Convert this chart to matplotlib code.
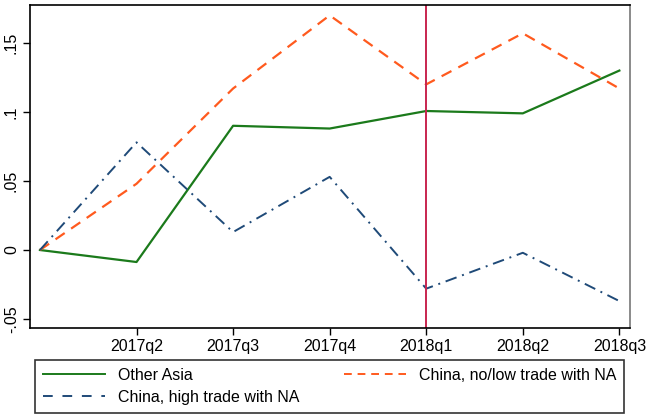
import matplotlib
matplotlib.use("Agg")
import matplotlib.pyplot as plt
from matplotlib.lines import Line2D

plt.rcParams['font.family'] = ['Liberation Sans', 'DejaVu Sans']

quarters = ['2017q1', '2017q2', '2017q3', '2017q4', '2018q1', '2018q2', '2018q3']
tick_labels = ['', '2017q2', '2017q3', '2017q4', '2018q1', '2018q2', '2018q3']
other_asia = [0.0, -0.0087, 0.090, 0.088, 0.1007, 0.099, 0.130]
china_low = [0.0, 0.048, 0.117, 0.170, 0.120, 0.157, 0.117]
china_high = [0.0, 0.078, 0.013, 0.053, -0.028, -0.002, -0.037]
y_ticks = [-0.05, 0.0, 0.05, 0.10, 0.15]
y_tick_labels = ['-.05', '0', '.05', '.1', '.15']
event_quarter = '2018q1'

x = list(range(1, len(quarters) + 1))

fig = plt.figure(figsize=(6.5, 4.18), dpi=100)
ax = fig.add_axes([30/650, 1 - 328/418, 600/650, 323/418])

c_green = '#1b7a1b'
c_orange = '#ff5a1e'
c_blue = '#1f4a78'
c_red = '#c8254f'

l1, = ax.plot(x, other_asia, color=c_green, lw=1.6, label='Other Asia')
l2, = ax.plot(x, china_low, color=c_orange, lw=1.6, dashes=(5, 3.5),
              label='China, no/low trade with NA')
l3, = ax.plot(x, china_high, color=c_blue, lw=1.4, dashes=(6, 3, 1, 3),
              label='China, high trade with NA')
ax.axvline(x[quarters.index(event_quarter)], color=c_red, lw=1.4)

ax.set_xlim(0.897, 7.11)
ax.set_ylim(-0.0565, 0.1775)
ax.set_xticks(x[1:])
ax.set_xticklabels(tick_labels[1:], fontsize=11.5)
ax.set_yticks(y_ticks)
ax.set_yticklabels(y_tick_labels, fontsize=11.5, rotation=90, va='center')
ax.tick_params(direction='out', length=5, width=1, pad=3)

for s in ['left', 'bottom', 'top']:
    ax.spines[s].set_color('black')
    ax.spines[s].set_linewidth(1.2)
ax.spines['right'].set_color('#777777')
ax.spines['right'].set_linewidth(1.2)

h_green = Line2D([], [], color=c_green, lw=1.4)
h_orange = Line2D([], [], color=c_orange, lw=1.4, dashes=(4, 3))
h_blue = Line2D([], [], color=c_blue, lw=1.4, dashes=(5, 5))
leg = fig.legend([h_green, h_blue, h_orange],
                 [l1.get_label(), l3.get_label(), l2.get_label()],
                 ncol=2, loc='lower left',
                 bbox_to_anchor=(35/650, 1 - 413/418, 589/650, 50/418),
                 mode='expand', fontsize=11.5, frameon=True, fancybox=False,
                 edgecolor='black', handlelength=3.9, handletextpad=0.8,
                 borderpad=0.5, labelspacing=0.45, borderaxespad=0)
leg.get_frame().set_linewidth(1.2)

fig.savefig('out.png', dpi=100)
